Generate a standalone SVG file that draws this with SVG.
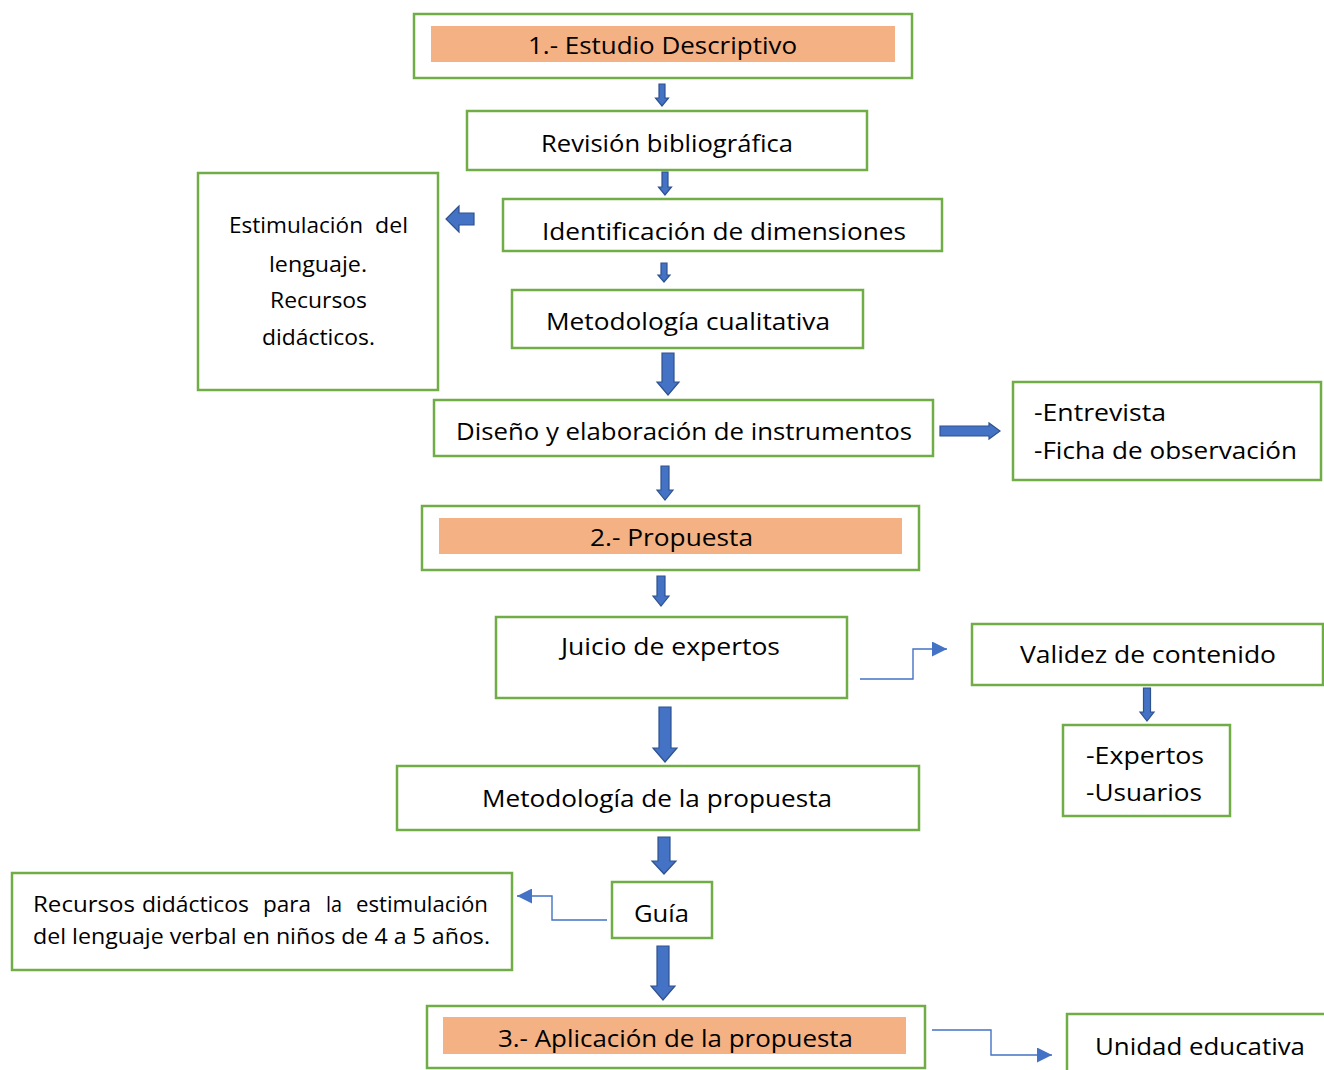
<svg xmlns="http://www.w3.org/2000/svg" width="1324" height="1070" viewBox="0 0 1324 1070">
<style>
.box{fill:#fff;stroke:#70AD47;stroke-width:2.5}
.band{fill:#F4B183}
.t{font-family:"Open Sans","Liberation Sans",sans-serif;font-size:24.5px;fill:#000}
.s{font-family:"Open Sans","Liberation Sans",sans-serif;font-size:21px;fill:#000}
.blk{fill:#4472C4;stroke:#2F528F;stroke-width:1.2}
.ln{fill:none;stroke:#4472C4;stroke-width:1.4}
</style>
<defs>
<marker id="tri" viewBox="0 0 10 10" refX="10" refY="5" markerWidth="15" markerHeight="15" markerUnits="userSpaceOnUse" orient="auto">
<path d="M0,0 L10,5 L0,10 Z" fill="#4472C4"/>
</marker>
</defs>
<rect width="1324" height="1070" fill="#fff"/>

<g id="n1"><rect class="box" x="414" y="14" width="498" height="64"/><rect class="band" x="431" y="26" width="464" height="36"/><text class="t" x="528" y="54" textLength="269" lengthAdjust="spacingAndGlyphs">1.- Estudio Descriptivo</text></g>
<g id="n2"><rect class="box" x="467" y="111" width="400" height="59"/><text class="t" x="541" y="152" textLength="252" lengthAdjust="spacingAndGlyphs">Revisión bibliográfica</text></g>
<g id="n3"><rect class="box" x="503" y="199" width="439" height="52"/><text class="t" x="542" y="240" textLength="364" lengthAdjust="spacingAndGlyphs">Identificación de dimensiones</text></g>
<g id="n4"><rect class="box" x="198" y="173" width="240" height="217"/>
<text class="s" y="233"><tspan x="229" textLength="134" lengthAdjust="spacingAndGlyphs">Estimulación</tspan><tspan x="375" textLength="33" lengthAdjust="spacingAndGlyphs">del</tspan></text>
<text class="s" x="269" y="272" textLength="98" lengthAdjust="spacingAndGlyphs">lenguaje.</text>
<text class="s" x="270" y="308" textLength="97" lengthAdjust="spacingAndGlyphs">Recursos</text>
<text class="s" x="262" y="345" textLength="113" lengthAdjust="spacingAndGlyphs">didácticos.</text></g>
<g id="n5"><rect class="box" x="512" y="290" width="351" height="58"/><text class="t" x="546" y="330" textLength="284" lengthAdjust="spacingAndGlyphs">Metodología cualitativa</text></g>
<g id="n6"><rect class="box" x="434" y="400" width="499" height="56"/><text class="t" x="456" y="440" textLength="456" lengthAdjust="spacingAndGlyphs">Diseño y elaboración de instrumentos</text></g>
<g id="n7"><rect class="box" x="1013" y="382" width="308" height="98"/>
<text class="t" x="1034" y="421" textLength="132" lengthAdjust="spacingAndGlyphs">-Entrevista</text>
<text class="t" x="1034" y="459" textLength="263" lengthAdjust="spacingAndGlyphs">-Ficha de observación</text></g>
<g id="n8"><rect class="box" x="422" y="506" width="497" height="64"/><rect class="band" x="439" y="518" width="463" height="36"/><text class="t" x="590" y="546" textLength="163" lengthAdjust="spacingAndGlyphs">2.- Propuesta</text></g>
<g id="n9"><rect class="box" x="496" y="617" width="351" height="81"/><text class="t" x="561" y="655" textLength="219" lengthAdjust="spacingAndGlyphs">Juicio de expertos</text></g>
<g id="n10"><rect class="box" x="972" y="624" width="351" height="61"/><text class="t" x="1020" y="663" textLength="256" lengthAdjust="spacingAndGlyphs">Validez de contenido</text></g>
<g id="n11"><rect class="box" x="1063" y="725" width="167" height="91"/>
<text class="t" x="1086" y="764" textLength="118" lengthAdjust="spacingAndGlyphs">-Expertos</text>
<text class="t" x="1086" y="801" textLength="116" lengthAdjust="spacingAndGlyphs">-Usuarios</text></g>
<g id="n12"><rect class="box" x="397" y="766" width="522" height="64"/><text class="t" x="482" y="807" textLength="350" lengthAdjust="spacingAndGlyphs">Metodología de la propuesta</text></g>
<g id="n13"><rect class="box" x="612" y="882" width="100" height="56"/><text class="t" x="634" y="922" textLength="55" lengthAdjust="spacingAndGlyphs">Guía</text></g>
<g id="n14"><rect class="box" x="12" y="873" width="500" height="97"/>
<text class="s" y="912"><tspan x="33" textLength="102" lengthAdjust="spacingAndGlyphs">Recursos</tspan><tspan x="142" textLength="107" lengthAdjust="spacingAndGlyphs">didácticos</tspan><tspan x="263" textLength="48" lengthAdjust="spacingAndGlyphs">para</tspan><tspan x="326" textLength="16" lengthAdjust="spacingAndGlyphs">la</tspan><tspan x="356" textLength="132" lengthAdjust="spacingAndGlyphs">estimulación</tspan></text>
<text class="s" x="33" y="944" textLength="457" lengthAdjust="spacingAndGlyphs">del lenguaje verbal en niños de 4 a 5 años.</text></g>
<g id="n15"><rect class="box" x="427" y="1006" width="498" height="62"/><rect class="band" x="443" y="1017" width="463" height="37"/><text class="t" x="498" y="1047" textLength="355" lengthAdjust="spacingAndGlyphs">3.- Aplicación de la propuesta</text></g>
<g id="n16"><rect class="box" x="1067" y="1014" width="262" height="60"/><text class="t" x="1095" y="1055" textLength="210" lengthAdjust="spacingAndGlyphs">Unidad educativa</text></g>

<g id="connectors">
<path class="blk" d="M659,84 H665 V98 H668.5 L662,106 L655.5,98 H659 Z"/>
<path class="blk" d="M662,172 H668 V187 H671.5 L665,195 L658.5,187 H662 Z"/>
<path class="blk" d="M661,263 H667 V275 H670 L664,282 L658,275 H661 Z"/>
<path class="blk" d="M662,353 H674 V382 H679 L668,395 L657,382 H662 Z"/>
<path class="blk" d="M661,466 H669 V490 H673 L665,500 L657,490 H661 Z"/>
<path class="blk" d="M657,576 H665 V596 H669 L661,606 L653,596 H657 Z"/>
<path class="blk" d="M659,707 H671 V748 H677 L665,762 L653,748 H659 Z"/>
<path class="blk" d="M1143.5,688 H1150.5 V712 H1154 L1147,721 L1140,712 H1143.5 Z"/>
<path class="blk" d="M658,837 H670 V861 H676 L664,874 L652,861 H658 Z"/>
<path class="blk" d="M657,946 H669 V986 H675 L663,1000 L651,986 H657 Z"/>
<path class="blk" d="M474,213 V225 H459 V232 L446,219 L459,206 V213 Z"/>
<path class="blk" d="M940,426 H989 V423 L1000,431 L989,439 V436 H940 Z"/>
<path class="ln" d="M860,679 H913 V649 H947" marker-end="url(#tri)"/>
<path class="ln" d="M607,920 H552 V896 H517" marker-end="url(#tri)"/>
<path class="ln" d="M932,1030 H991 V1055 H1052" marker-end="url(#tri)"/>
</g>
</svg>
